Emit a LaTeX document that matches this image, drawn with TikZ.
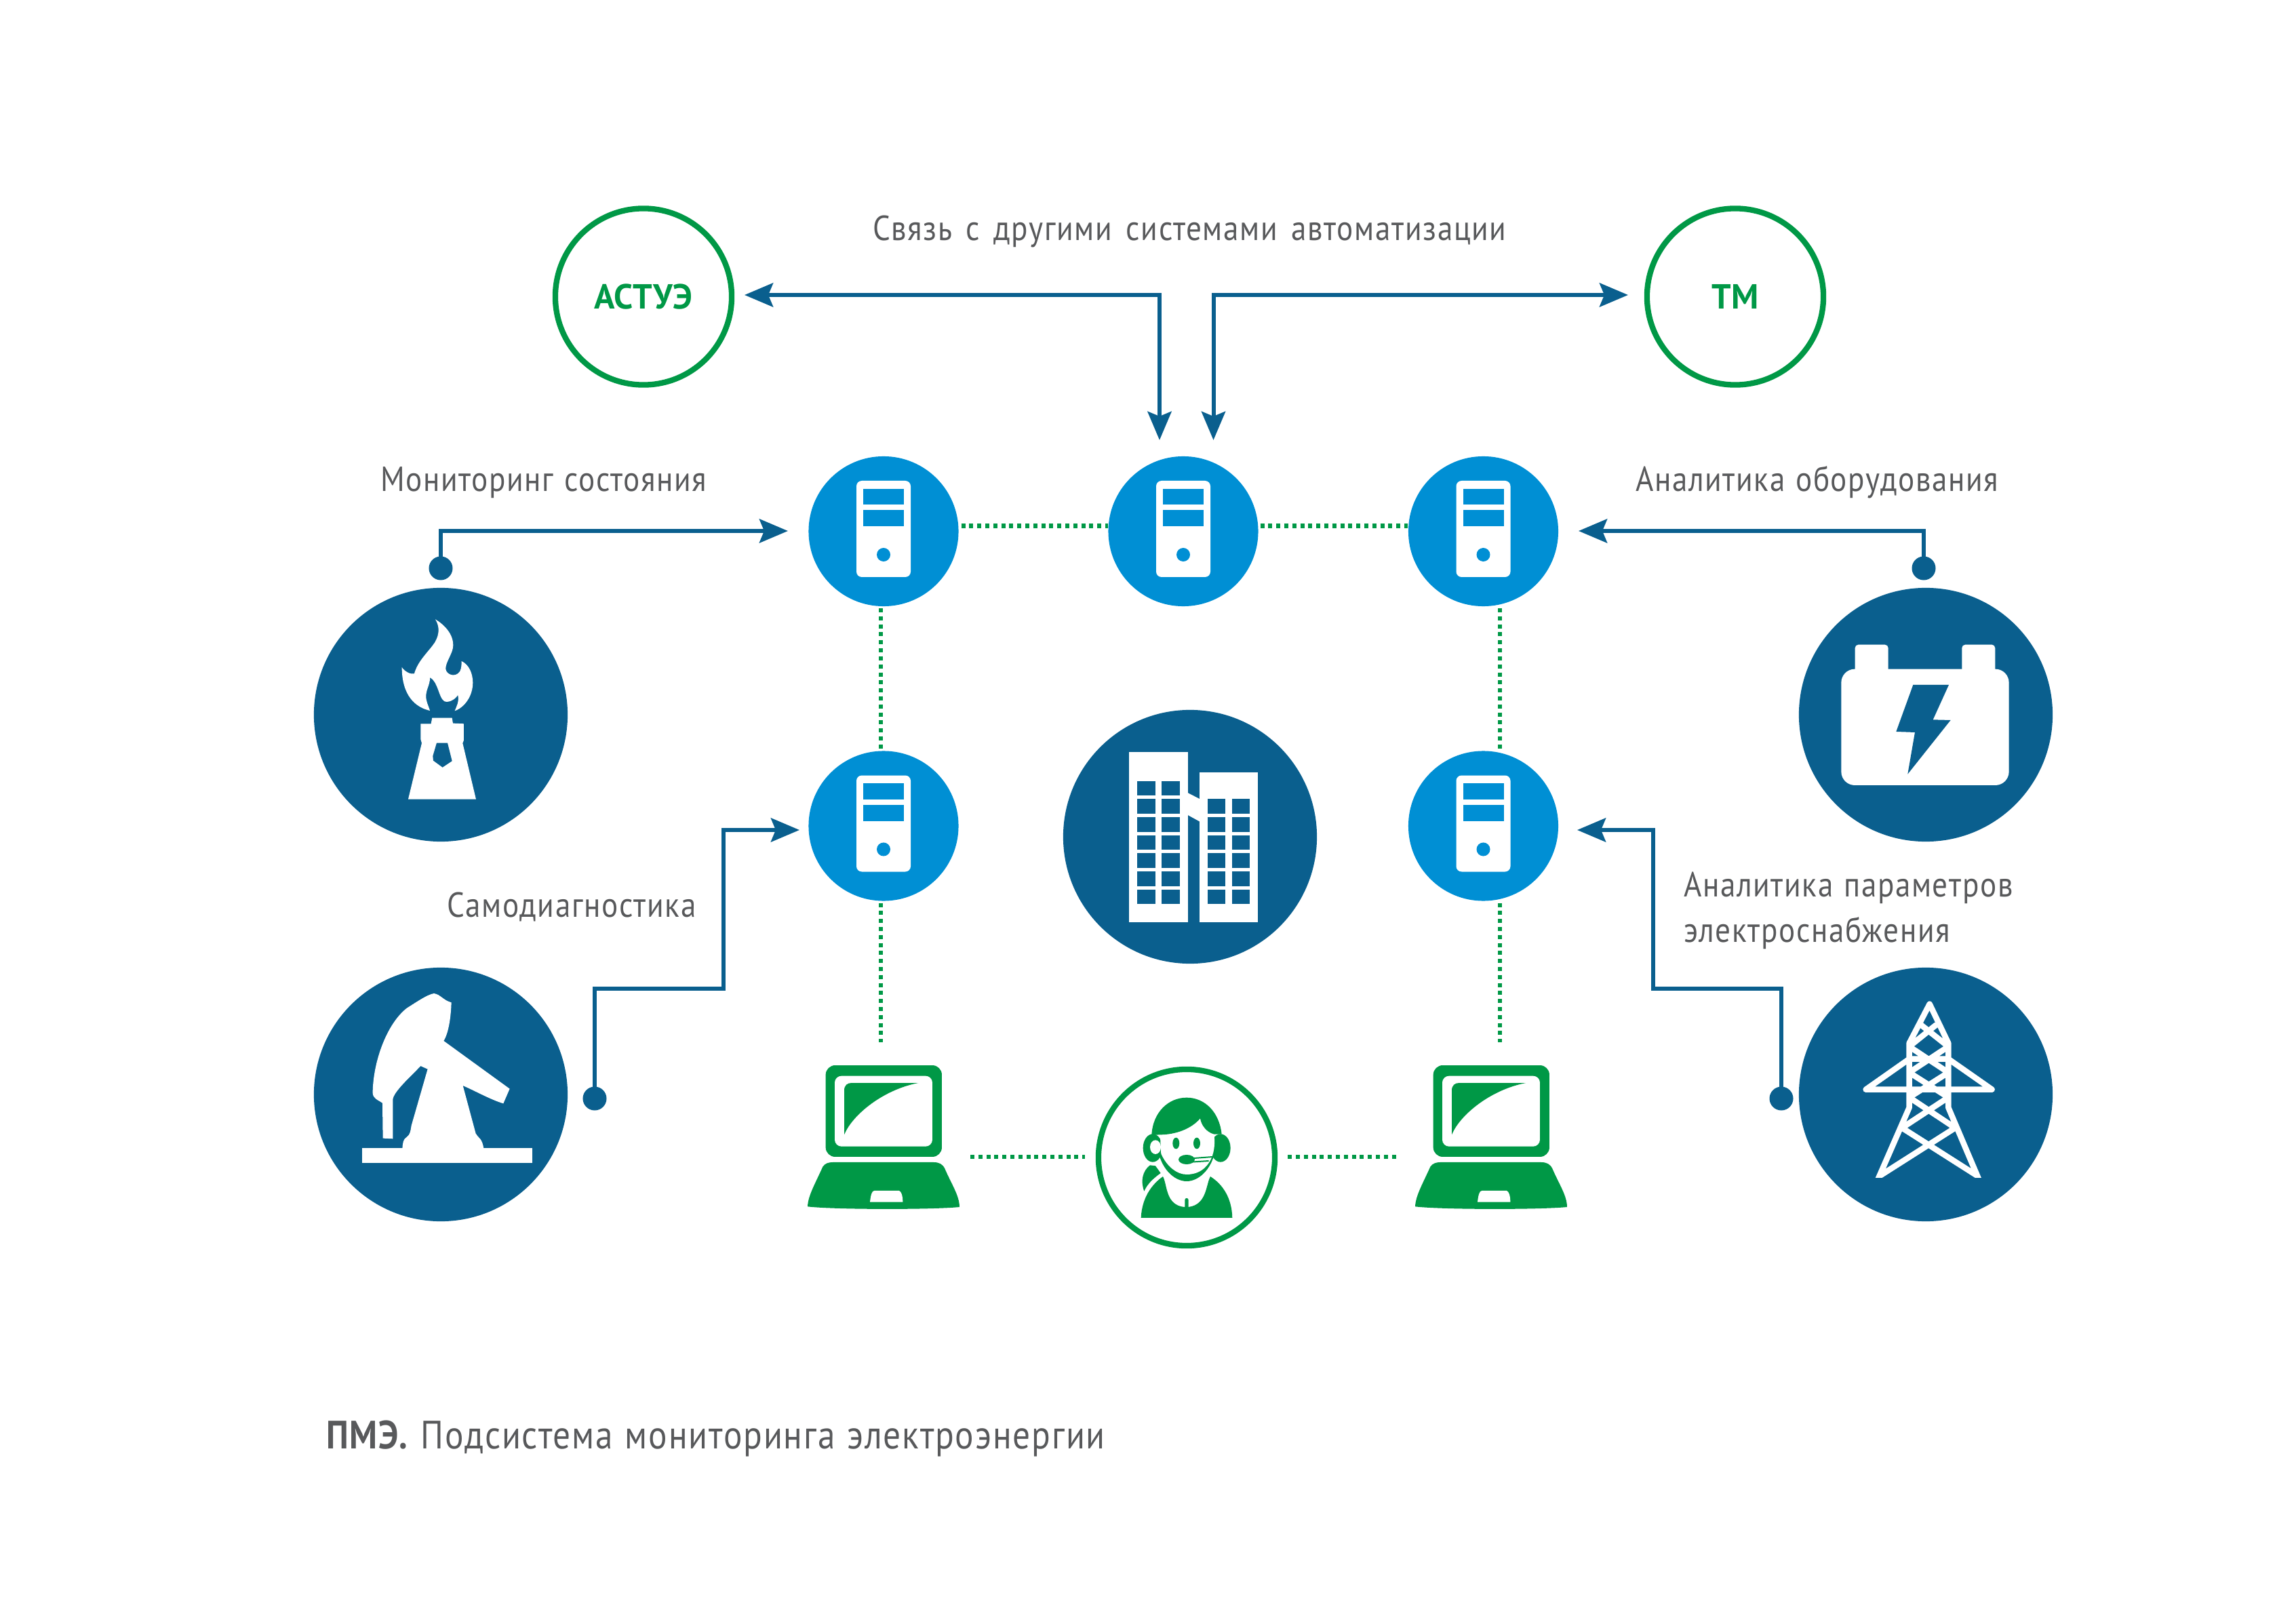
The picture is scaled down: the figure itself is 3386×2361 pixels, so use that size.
\documentclass[tikz,border=0pt]{standalone}
\usepackage{fontspec}
\setmainfont{PT Sans}[FakeStretch=0.88,LetterSpace=3.2,WordSpace=1.15]
\newfontfamily\ringfont{PT Sans}[FakeStretch=0.98]
\newfontfamily\widewords{PT Sans}[FakeStretch=0.88,LetterSpace=3.2,WordSpace=1.5]
\usetikzlibrary{arrows.meta,calc}
\definecolor{navy}{HTML}{0A5F8E}
\definecolor{srvblue}{HTML}{008FD4}
\definecolor{grn}{HTML}{009846}
\definecolor{txt}{HTML}{58595B}
\tikzset{
  bigdisc/.style={circle,fill=navy,minimum size=3.74cm,inner sep=0pt,outer sep=0pt},
  srvdisc/.style={circle,fill=srvblue,minimum size=2.21cm,inner sep=0pt,outer sep=0pt},
  ringdisc/.style={circle,draw=grn,line width=0.083cm,minimum size=2.6cm,inner sep=0pt,outer sep=0pt,fill=white},
  enddot/.style={circle,fill=navy,minimum size=0.35cm,inner sep=0pt,outer sep=0pt},
  link/.style={draw=navy,line width=0.06cm,miter limit=10},
  tipped/.style={link,-{Stealth[length=0.42cm,width=0.35cm,inset=0.07cm]}},
  dbltipped/.style={link,{Stealth[length=0.42cm,width=0.35cm,inset=0.07cm]}-{Stealth[length=0.42cm,width=0.35cm,inset=0.07cm]}},
  dotlink/.style={draw=grn,line width=0.06cm,dash pattern=on 0.06cm off 0.058cm},
  lbl/.style={anchor=base west,inner sep=0pt,outer sep=0pt,text=txt,font=\fontsize{14.6pt}{18.8pt}\selectfont,align=left},
  ringlbl/.style={text=grn,font=\ringfont\fontsize{14.6pt}{17pt}\selectfont\bfseries},
  srv/.pic={
    \fill[white,rounded corners=0.08cm] (-40,-74.5) rectangle (40,67.5);
    \fill[srvblue] (-30,-62.8) rectangle (30,-39.2);
    \fill[srvblue] (-30,-31.2) rectangle (30,-7.5);
    \fill[srvblue] (0,34.5) circle[radius=0.1cm];
  },
  laptop/.pic={
    \begin{scope}[scale=0.3333]
    \fill[grn,rounded corners=0.14cm] (143,63) rectangle (657,468);
    \fill[white,rounded corners=0.1cm] (183,110) rectangle (615,422);
    \fill[grn] (225,370) -- (225,175) .. controls (225,152) and (238,141) .. (258,141) -- (553,141)
       .. controls (400,170) and (262,280) .. (225,370) -- cycle;
    \fill[grn] (63,688) .. controls (65,640) and (95,590) .. (130,512) .. controls (140,497) and (155,492) .. (175,492)
       -- (620,492) .. controls (645,492) and (660,500) .. (670,520) .. controls (700,590) and (735,640) .. (735,690)
       .. controls (620,702) and (180,702) .. (63,688) -- cycle;
    \fill[white] (339,668) .. controls (342,640) and (347,618) .. (358,618) -- (468,618)
       .. controls (478,622) and (484,640) .. (484,668) -- cycle;
    \end{scope}
  }
}
\begin{document}
\begin{tikzpicture}[x=0.01cm,y=-0.01cm]
\useasboundingbox (0,0) rectangle (3386,2361);
% ---------- nodes
\node[bigdisc] (flare) at (650,1054) {};
\node[bigdisc] (pump) at (650,1614) {};
\node[bigdisc] (batt) at (2840,1054) {};
\node[bigdisc] (pylon) at (2840,1614) {};
\node[bigdisc] (bldg) at (1755,1234) {};
\node[srvdisc] (s1) at (1303,783.5) {};
\node[srvdisc] (s2) at (1745,783.5) {};
\node[srvdisc] (s3) at (2187.5,783.5) {};
\node[srvdisc] (s4) at (1303,1218) {};
\node[srvdisc] (s5) at (2187.5,1218) {};
\node[ringdisc,ringlbl] (astue) at (949,437.5) {АСТУЭ};
\node[ringdisc,ringlbl] (tm) at (2559,437.5) {ТМ};
\node[ringdisc] (oper) at (1750,1707) {};
\node[enddot] (d1) at (650,838) {};
\node[enddot] (d2) at (2837,838) {};
\node[enddot] (d3) at (877,1620) {};
\node[enddot] (d4) at (2627,1620) {};
% laptop frames
\coordinate (lap1) at (1170,1550);
\coordinate (lap2) at (2066,1550);
% free ends of the arrows
\coordinate (tipA) at (1098,435);
\coordinate (tipB) at (2401,435);
\coordinate (tipC) at (1710,649);
\coordinate (tipD) at (1789.5,649);
\coordinate (tipE) at (1162,783);
\coordinate (tipF) at (2328,783);
\coordinate (tipG) at (1179,1224);
\coordinate (tipH) at (2326,1224);
\coordinate (kneeG) at (1067,1458);
\coordinate (kneeH) at (2437.6,1458);
% ---------- arrows
\draw[dbltipped] (tipA) -- (tipA -| tipC) -- (tipC);
\draw[dbltipped] (tipB) -- (tipB -| tipD) -- (tipD);
\draw[tipped] (d1.center) -- (d1 |- tipE) -- (tipE);
\draw[tipped] (d2.center) -- (d2 |- tipF) -- (tipF);
\draw[tipped] (d3.center) -- (d3 |- kneeG) -- (kneeG) -- (kneeG |- tipG) -- (tipG);
\draw[tipped] (d4.center) -- (d4 |- kneeH) -- (kneeH) -- (kneeH |- tipH) -- (tipH);
% ---------- dotted links
\draw[dotlink] ([shift={(4,-8)}]s1.east) -- ([shift={(0,-8)}]s2.west);
\draw[dotlink] ([shift={(3,-8)}]s2.east) -- ([shift={(-1,-8)}]s3.west);
\draw[dotlink] ([shift={(-4,3)}]s1.south) -- ([shift={(-4,-1)}]s4.north);
\draw[dotlink] ([shift={(24.5,3)}]s3.south) -- ([shift={(24.5,-1)}]s5.north);
\coordinate (lapT1) at (1299,1537);
\coordinate (lapT2) at (2212,1537);
\draw[dotlink] ([shift={(-4,3)}]s4.south) -- (lapT1);
\draw[dotlink] ([shift={(24.5,3)}]s5.south) -- (lapT2);
\coordinate (lapR1) at (1431,1706);
\coordinate (lapL2) at (2059,1706);
\draw[dotlink] (lapR1) -- ([shift={(-20,-1)}]oper.west);
\draw[dotlink] ([shift={(19,-1)}]oper.east) -- (lapL2);
% ---------- server icons
\foreach \n in {s1,s2,s3,s4,s5} \pic at (\n) {srv};
% ---------- laptops
\pic at (lap1) {laptop};
\pic at (lap2) {laptop};
% ---------- flare
\begin{scope}[shift={(440,840)},scale=0.3333]
\fill[white] (606,220) .. controls (640,240) and (685,280) .. (685,335) .. controls (685,370) and (650,410) .. (652,440)
 .. controls (655,465) and (695,480) .. (715,450) .. controls (722,435) and (722,420) .. (722,405)
 .. controls (755,420) and (772,460) .. (772,500) .. controls (772,560) and (735,610) .. (692,625)
 .. controls (700,605) and (712,585) .. (706,555) .. controls (690,580) and (660,590) .. (645,582)
 .. controls (620,565) and (620,500) .. (583,477) .. controls (582,510) and (565,530) .. (565,560)
 .. controls (565,585) and (575,600) .. (582,624) .. controls (520,610) and (458,560) .. (458,432)
 .. controls (470,450) and (495,465) .. (513,460) .. controls (530,400) and (580,360) .. (605,320)
 .. controls (625,285) and (625,250) .. (606,220) -- cycle;
\fill[white] (587,682) -- (592,656) -- (680,656) -- (684,680) -- (732,682) -- (732,755) -- (727,768) -- (786,1016)
 -- (486,1016) -- (546,768) -- (541,750) -- (541,682) -- cycle;
\fill[navy] (612,767) -- (660,767) -- (680,847) -- (638,875) -- (597,845) -- (595,825) -- cycle;
\end{scope}
% ---------- pumpjack
\begin{scope}[shift={(440,1400)},scale=0.3333]
\fill[white] (283,878) rectangle (1036,946);
\fill[white] (600,195) .. controls (630,200) and (640,225) .. (677,235) .. controls (675,300) and (665,370) .. (643,405)
 -- (935,617) -- (907,682) .. controls (850,665) and (780,625) .. (728,603) -- (785,815)
 .. controls (795,835) and (815,835) .. (820,884) -- (460,884) .. controls (462,860) and (462,840) .. (480,830)
 .. controls (495,820) and (497,800) .. (500,780) -- (572,530) -- (541,516)
 .. controls (500,560) and (420,630) .. (418,665) -- (418,838) -- (374,836) -- (372,680)
 .. controls (350,665) and (330,660) .. (329,635) .. controls (330,500) and (390,330) .. (480,260)
 .. controls (520,235) and (570,200) .. (600,195) -- cycle;
\end{scope}
% ---------- battery
\begin{scope}[shift={(2640,860)},scale=0.3333]
\fill[white,rounded corners=0.05cm] (287,272) rectangle (434,420);
\fill[white,rounded corners=0.05cm] (760,272) rectangle (907,420);
\fill[white,rounded corners=0.2cm] (226,380) rectangle (968,894);
\fill[navy] (544,450) -- (702,450) -- (632,604) -- (710,606) -- (520,845) -- (552,660) -- (469,657) -- cycle;
\end{scope}
% ---------- pylon
\begin{scope}[shift={(2640,1430)},scale=0.3333]
\clip (300,100) rectangle (920,920);
\draw[white,line width=0.085cm,line join=round,line cap=round]
  (385,935) -- (527,610) -- (527,325) -- (617,152) -- (700,325) -- (700,610) -- (838,935)
  (335,530) -- (893,530)
  (335,530) -- (527,395) -- (700,395) -- (893,530)
  (645,245) -- (527,340) -- (700,455) -- (527,565) -- (730,700) -- (400,910)
  (580,245) -- (700,340) -- (527,455) -- (700,565) -- (495,700) -- (825,910);
\end{scope}
% ---------- buildings
\begin{scope}[shift={(1560,1040)},scale=0.3333]
\fill[white] (316,207) rectangle (576,959);
\fill[white] (626,298) rectangle (885,959);
\fill[white] (570,385) -- (632,417) -- (632,517) -- (570,483) -- cycle;
\foreach \yy in {335,415,495,575,655,735,815} {
  \fill[navy] (352,\yy) rectangle (433,\yy+65);
  \fill[navy] (460,\yy) rectangle (540,\yy+65);
}
\foreach \yy in {415,495,575,655,735,815} {
  \fill[navy] (662,\yy) rectangle (742,\yy+65);
  \fill[navy] (770,\yy) rectangle (849,\yy+65);
}
\end{scope}
% ---------- operator
\begin{scope}[shift={(1600,1560)},scale=0.3333]
\fill[grn] (300,399) ellipse[x radius=43,y radius=62];
\fill[grn] (600,399) ellipse[x radius=44,y radius=62];
\fill[grn] (322,400) .. controls (335,490) and (395,546) .. (450,546) .. controls (505,546) and (565,490) .. (578,400) -- cycle;
\fill[white] (332,330) -- (570,330) .. controls (578,380) and (572,430) .. (548,465)
  .. controls (525,500) and (490,516) .. (450,516) .. controls (410,516) and (365,485) .. (337,425) -- cycle;
\fill[white] (312,395) ellipse[x radius=24,y radius=31];
\fill[grn] (295,342) .. controls (300,240) and (370,176) .. (450,176) .. controls (530,176) and (595,240) .. (605,338)
  -- (572,338) .. controls (540,330) and (515,300) .. (510,268) .. controls (470,315) and (400,340) .. (332,340) -- (295,342) -- cycle;
\fill[grn] (403,378) ellipse[x radius=15,y radius=25];
\fill[grn] (495,378) ellipse[x radius=15,y radius=25];
\fill[grn] (450,450) ellipse[x radius=36,y radius=21];
\draw[grn,line width=0.02cm] (470,445) -- (565,438);
\draw[grn,line width=0.02cm] (470,461) -- (548,456);
\fill[grn] (248,708) .. controls (252,620) and (295,560) .. (345,525) .. controls (365,560) and (355,650) .. (438,660)
  -- (442,660) -- (442,628) .. controls (445,618) and (455,618) .. (458,628) -- (458,660)
  .. controls (540,650) and (535,560) .. (555,525) .. controls (610,560) and (650,620) .. (652,708) -- cycle;
\fill[grn] (288,475) -- (312,478) -- (335,510) .. controls (300,535) and (275,560) .. (262,590)
  .. controls (245,545) and (255,500) .. (288,475) -- cycle;
\end{scope}
% ---------- labels
\node[lbl] (t1) at (1287,355) {\widewords Связь с другими системами автоматизации};
\node[lbl] (t2) at (561,725) {Мониторинг состояния};
\node[lbl] (t3) at (2412,725) {Аналитика оборудования};
\node[lbl] (t4) at (659,1352) {Самодиагностика};
\node[lbl] (t5) at (2483,1389) {Аналитика параметров\\электроснабжения};
\node[lbl,font=\fontsize{16.58pt}{20pt}\selectfont] (t6) at (481,2136) {\textbf{ПМЭ.} Подсистема мониторинга электроэнергии};
\end{tikzpicture}
\end{document}
